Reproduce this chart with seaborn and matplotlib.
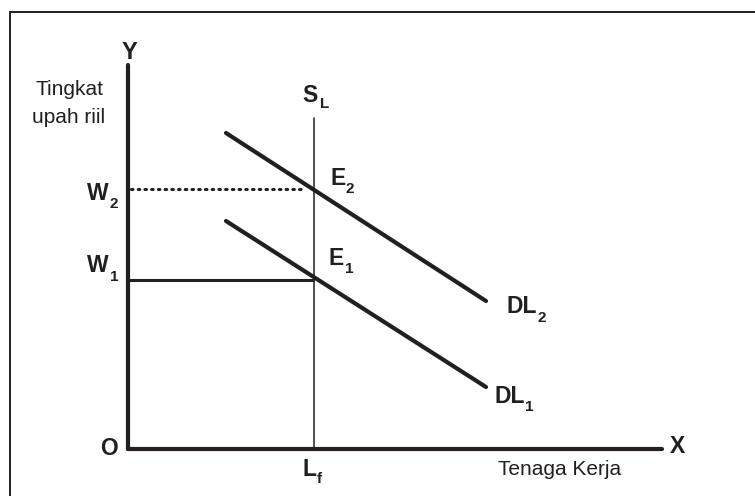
import matplotlib
matplotlib.use("Agg")
import matplotlib.pyplot as plt
import seaborn as sns
import numpy as np
import pandas as pd
from matplotlib.patches import Rectangle

sns.set_theme(style="white")
plt.rcParams['font.family'] = ['Liberation Sans', 'DejaVu Sans']

INK = "#231f20"

# ---- data (units measured from origin O) ----
labor_full = 186          # L_f
wage_w1 = 169             # W1
wage_w2 = 260             # W2
y_axis_top = 384
x_axis_end = 534
sl_top = 331
dl1_x = [98, 358]
dl1_y = [228, 62]
dl2_x = [98, 358]
dl2_y = [316, 148]

fig = plt.figure(figsize=(7.55, 4.96), dpi=100)
ax = fig.add_axes([0, 0, 1, 1])
ax.set_xlim(-128, 627)
ax.set_ylim(-47, 449)
ax.axis("off")

# frame (only left and top visible)
ax.add_patch(Rectangle((-118, -60), 800, 497, fill=False, edgecolor=INK, lw=1.4, zorder=1))

# axes
sns.lineplot(x=[0, 0], y=[0, y_axis_top], ax=ax, color=INK, lw=3.0, estimator=None, sort=False)
sns.lineplot(x=[0, x_axis_end], y=[0, 0], ax=ax, color=INK, lw=3.0, estimator=None, sort=False)

# supply of labour (vertical)
sns.lineplot(x=[labor_full, labor_full], y=[0, sl_top], ax=ax, color=INK, lw=1.1, estimator=None, sort=False)

# wage lines
ax.plot([0, labor_full], [wage_w1, wage_w1], color=INK, lw=2.2, solid_capstyle="butt")
ax.plot([3, labor_full - 12], [wage_w2, wage_w2], color=INK, lw=2.2, linestyle=(0, (0.5, 1.7)),
        dash_capstyle="round")

# demand curves
df = pd.DataFrame({"x": dl1_x + dl2_x, "y": dl1_y + dl2_y, "curve": ["DL1"] * 2 + ["DL2"] * 2})
sns.lineplot(data=df, x="x", y="y", units="curve", estimator=None, sort=False, ax=ax,
             color=INK, lw=3.0, legend=False)

BIG = 16.5
SUB = 11
REG = 15


def T(px, py, s, size, bold=True, ha="left"):
    ax.text(px - 128, 449 - py, s, fontsize=size, fontweight="bold" if bold else "normal",
            color=INK, ha=ha, va="baseline")


def lab(px, py, main, spx, spy, sub):
    T(px, py, main, BIG)
    T(spx, spy, sub, SUB)


T(129, 59, "Y", 17, ha="center")
T(69, 95, "Tingkat", REG, bold=False, ha="center")
T(69, 123, "upah riil", REG, bold=False, ha="center")
lab(302, 102, "S", 320, 108, "L")
lab(87, 200, "W", 110, 208, "2")
lab(87, 272, "W", 110, 281, "1")
lab(330, 185, "E", 345, 193, "2")
lab(329, 265, "E", 345, 273, "1")
lab(507, 313, "DL", 537, 322, "2")
lab(495, 403, "DL", 525, 411, "1")
T(100, 455, "O", BIG)
T(670, 453, "X", BIG)
lab(303, 476, "L", 317, 483, "f")
T(498, 475, "Tenaga Kerja", REG, bold=False)

fig.savefig("out.png", dpi=100)
